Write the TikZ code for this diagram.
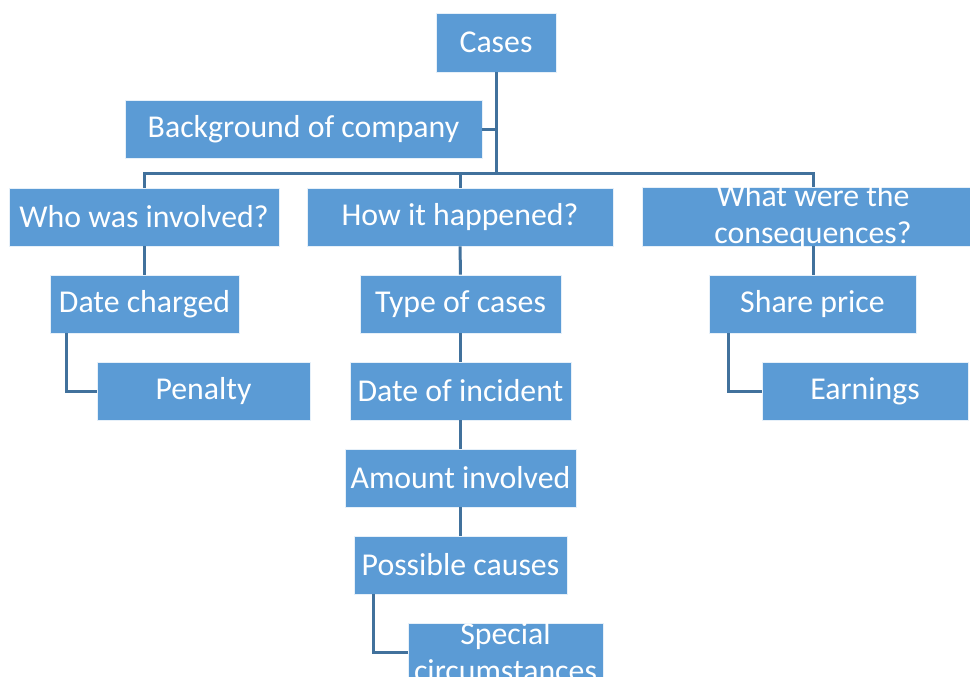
\documentclass[tikz,border=0pt]{standalone}
\usepackage{fontspec}
\setmainfont{Carlito}
\usepackage{xcolor}
\definecolor{boxblue}{HTML}{5B9BD5}
\definecolor{linkblue}{HTML}{41719C}

\begin{document}
\begin{tikzpicture}[x=1pt,y=-1pt,
  box/.style={fill=boxblue, draw=white!85!boxblue, line width=0.8pt, text=white,
    minimum height=58pt, inner sep=0pt, font=\fontsize{31.8}{37}\selectfont},
  twoline/.style={label={[text=white, align=center, font=\fontsize{31.8}{37}\selectfont]center:#1}},
  link/.style={draw=linkblue, line width=3pt}]
\useasboundingbox (0,0) rectangle (970,677);
\clip (0,0) rectangle (970,677);
\fill[white] (0,0) rectangle (970,677);
% top
\node[box, minimum width=120pt, minimum height=59pt] (cases) at (496,42.5) {Cases};
\node[box, minimum width=357pt] (background) at (303.5,129.5) {Background of company};
% second row
\node[box, minimum width=270pt] (who) at (144,217) {Who was involved?};
\node[box, minimum width=306pt] (how) at (460,217) {How it happened?};
\node[box, minimum width=342pt, minimum height=59pt,
  twoline={What were the\\consequences?}] (conseq) at (813,216.5) {};
% left column
\node[box, minimum width=189pt] (datech) at (144.5,304) {Date charged};
\node[box, minimum width=213pt] (penalty) at (203.5,391) {Penalty};
% middle column
\node[box, minimum width=201pt] (types) at (460.5,304) {Type of cases};
\node[box, minimum width=221pt] (dateinc) at (460.5,391) {Date of incident};
\node[box, minimum width=231pt] (amount) at (460.5,478) {Amount involved};
\node[box, minimum width=213pt] (causes) at (460.5,565) {Possible causes};
\node[box, minimum width=195pt,
  twoline={Special\\circumstances}] (special) at (505.5,652) {};
% right column
\node[box, minimum width=207pt] (share) at (812.5,304) {Share price};
\node[box, minimum width=206pt] (earnings) at (865,391) {Earnings};

% connectors
\coordinate (bus) at (496,173);
\draw[link] (cases) -- (bus);
\draw[link] (background) -- (background -| bus);
\draw[link] (who.north) |- (bus) -| (conseq.north);
\draw[link] (how.north) -- (how.north |- bus);
\draw[link] (who.south) -- (who.south |- datech.north);
\draw[link] ([xshift=17pt]datech.south west) |- (penalty.west);
\draw[link] (how) -- (types);
\draw[link] (types) -- (dateinc);
\draw[link] (dateinc) -- (amount);
\draw[link] (amount) -- (causes);
\draw[link] ([xshift=20pt]causes.south west) |- (special.west);
\draw[link] (conseq.south) -- (conseq.south |- share.north);
\draw[link] ([xshift=20pt]share.south west) |- (earnings.west);
\end{tikzpicture}
\end{document}
